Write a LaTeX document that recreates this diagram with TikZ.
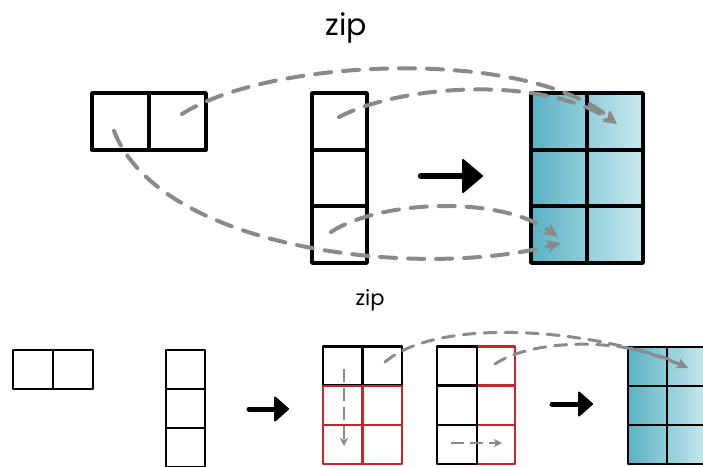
\documentclass[tikz,border=0pt]{standalone}
\usepackage{fontspec}
\newfontfamily\zipfont{Poppins}
\usetikzlibrary{arrows.meta}
\definecolor{flowgray}{HTML}{8A8A8A}
\definecolor{zipred}{HTML}{C1272D}
\definecolor{tealdark}{HTML}{5AB2C4}
\definecolor{teallight}{HTML}{CBE9EF}
\begin{document}
\begin{tikzpicture}[x=1pt,y=-1pt,
  bigcell/.style={draw=black, line width=3.8pt, line join=round, inner sep=0pt, outer sep=0pt, minimum width=56.5pt, minimum height=56.67pt},
  smallcell/.style={draw=black, line width=2.8pt, line join=round, inner sep=0pt, outer sep=0pt, minimum width=39.5pt, minimum height=39pt},
  redcell/.style={smallcell, draw=zipred},
  flow/.style={draw=flowgray, line width=4pt, line cap=round, dash pattern=on 16pt off 12pt, -{Stealth[length=14pt,width=12pt,inset=3.5pt]}},
  flowsmall/.style={draw=flowgray, line width=3pt, line cap=round, dash pattern=on 12pt off 9pt, -{Stealth[length=11pt,width=10pt,inset=3pt]}},
  flowtiny/.style={draw=flowgray, line width=2.6pt, dash pattern=on 13pt off 6pt, -{Stealth[length=8pt,width=8pt,inset=2pt]}},
  shaftbig/.style={draw=black, line width=6.5pt, line cap=round},
  shaftmid/.style={draw=black, line width=5pt, line cap=round},
  headfill/.style={fill=black, draw=black, line width=2pt, line join=round},
  label/.style={font=\zipfont, inner sep=0pt, anchor=base}
]
\useasboundingbox (0,0) rectangle (703,466);

% ---------- top part ----------
\node[label, font=\zipfont\fontsize{30}{32}\selectfont] (ziptop) at (346,35) {zip};

% left 1x2 box
\node[bigcell, minimum width=57pt] (a1) at (120.5,121.33) {};
\node[bigcell, minimum width=57pt] (a2) at (177.5,121.33) {};

% middle column
\node[bigcell, minimum width=55pt] (b1) at (339.5,121.33) {};
\node[bigcell, minimum width=55pt] (b2) at (339.5,178) {};
\node[bigcell, minimum width=55pt] (b3) at (339.5,234.67) {};

% result grid
\shade[left color=tealdark, right color=teallight] (531,93) rectangle (643,263);
\node[bigcell, minimum width=56pt] (c11) at (559,121.33) {};
\node[bigcell, minimum width=56pt] (c12) at (615,121.33) {};
\node[bigcell, minimum width=56pt] (c21) at (559,178) {};
\node[bigcell, minimum width=56pt] (c22) at (615,178) {};
\node[bigcell, minimum width=56pt] (c31) at (559,234.67) {};
\node[bigcell, minimum width=56pt] (c32) at (615,234.67) {};

% big arrow
\coordinate (arrA) at (421,176);
\coordinate (arrB) at (482,176);
\draw[shaftbig] (arrA) -- ([xshift=-14pt]arrB);
\path[headfill] (arrB) -- ++(-19,-16) -- ++(0,32) -- cycle;

% dashed flows
\coordinate (sA2) at (182,114);
\coordinate (sB1) at (339,117);
\coordinate (sA1) at (114,131);
\coordinate (sB3) at (331,232);
\coordinate (tC12) at (617,124);
\coordinate (tC31a) at (558,237);
\coordinate (tC31b) at (561,243);
\draw[flow] (sA2) .. controls (270,58) and (525,47) .. (tC12);
\draw[flow] (sB1) .. controls (400,85) and (540,75) .. (tC12);
\draw[flow] (sA1) .. controls (160,250) and (420,280) .. (tC31b);
\draw[flow] (sB3) .. controls (380,200) and (500,195) .. (tC31a);

% ---------- bottom part ----------
\node[label, font=\zipfont\fontsize{21}{23}\selectfont] (zipbot) at (370,305) {zip};

% left 1x2 box
\node[smallcell, minimum width=40pt] (d1) at (33,369.5) {};
\node[smallcell, minimum width=40pt] (d2) at (73,369.5) {};

% column
\node[smallcell, minimum width=39pt] (e1) at (185.5,369.5) {};
\node[smallcell, minimum width=39pt] (e2) at (185.5,408.5) {};
\node[smallcell, minimum width=39pt] (e3) at (185.5,447.5) {};

\coordinate (arrC) at (249,409);
\coordinate (arrD) at (288,409);
\draw[shaftmid] (arrC) -- ([xshift=-10pt]arrD);
\path[headfill] (arrD) -- ++(-13,-11.5) -- ++(0,23) -- cycle;

% grid 1 (top row black, other rows red)
\node[smallcell] (f11) at (342.75,366) {};
\node[smallcell] (f12) at (382.25,366) {};
\node[redcell] (f21) at (342.75,405.5) {};
\node[redcell] (f22) at (382.25,405.5) {};
\node[redcell] (f31) at (342.75,444.5) {};
\node[redcell] (f32) at (382.25,444.5) {};

% grid 2 (left column black, right column red)
\node[redcell, minimum width=38pt] (g12) at (496,366) {};
\node[redcell, minimum width=38pt] (g22) at (496,405.5) {};
\node[redcell, minimum width=38pt] (g32) at (496,444.5) {};
\node[smallcell, minimum width=40pt] (g11) at (457,366) {};
\node[smallcell, minimum width=40pt] (g21) at (457,405.5) {};
\node[smallcell, minimum width=40pt] (g31) at (457,444.5) {};

\coordinate (arrE) at (552,404);
\coordinate (arrF) at (592,404);
\draw[shaftmid] (arrE) -- ([xshift=-10pt]arrF);
\path[headfill] (arrF) -- ++(-13,-11.5) -- ++(0,23) -- cycle;

% final grid
\shade[left color=tealdark, right color=teallight] (628,347) rectangle (708,464);
\node[smallcell, minimum width=39pt] (h11) at (647.5,366.5) {};
\node[smallcell, minimum width=39pt] (h12) at (686.5,366.5) {};
\node[smallcell, minimum width=39pt] (h21) at (647.5,405.5) {};
\node[smallcell, minimum width=39pt] (h22) at (686.5,405.5) {};
\node[smallcell, minimum width=39pt] (h31) at (647.5,444.5) {};
\node[smallcell, minimum width=39pt] (h32) at (686.5,444.5) {};

% small dashed flows
\coordinate (vS) at (344,369);
\coordinate (vT) at (344,446);
\draw[flowtiny] (vS) -- (vT);
\coordinate (hS) at (451,443);
\coordinate (hT) at (502,443);
\draw[flowtiny] (hS) -- (hT);

\coordinate (sF12) at (385,362);
\coordinate (sG12) at (495,364);
\coordinate (tH12) at (688,368);
\draw[flowsmall] (sF12) .. controls (440,315) and (600,330) .. (tH12);
\draw[flowsmall] (sG12) .. controls (530,340) and (620,335) .. (tH12);
\end{tikzpicture}
\end{document}
